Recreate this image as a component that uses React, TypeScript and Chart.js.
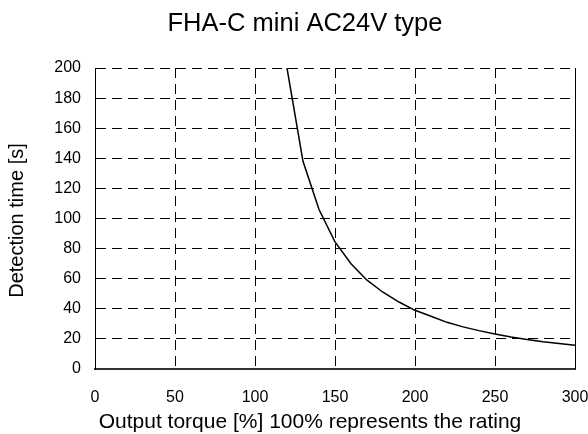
import React, { useEffect, useRef } from 'react';
import { Chart, registerables } from 'chart.js';

Chart.register(...registerables);

const torque = [120, 130, 140, 150, 160, 170, 180, 190, 200, 210, 220, 230, 240, 250, 260, 270, 280, 290, 300];
const detectionTime = [200, 138, 106, 84.5, 70, 59, 51, 44.5, 39, 35, 31, 28, 25.5, 23.3, 21.3, 19.6, 18.1, 16.9, 15.8];
const xTicks = [0, 50, 100, 150, 200, 250, 300];
const yTicks = [0, 20, 40, 60, 80, 100, 120, 140, 160, 180, 200];
const chartTitle = 'FHA-C mini AC24V type';
const xTitle = 'Output torque [%] 100% represents the rating';
const yTitle = 'Detection time [s]';

const FONT = "'Liberation Sans', Arial, sans-serif";

const textPlugin = {
  id: 'customText',
  afterDraw(chart: any) {
    const ctx = chart.ctx as CanvasRenderingContext2D;
    const xs = chart.scales.x;
    const area = chart.chartArea;
    ctx.save();
    // solid right frame edge, aligned like Chart.js grid lines
    ctx.strokeStyle = '#000';
    ctx.lineWidth = 1;
    ctx.setLineDash([]);
    const rx = Math.round(xs.getPixelForValue(xTicks[xTicks.length - 1]) - 0.5) + 0.5;
    ctx.beginPath();
    ctx.moveTo(rx, area.top);
    ctx.lineTo(rx, area.bottom);
    ctx.stroke();

    ctx.fillStyle = '#000';
    ctx.textBaseline = 'alphabetic';
    ctx.textAlign = 'center';
    ctx.font = `25.5px ${FONT}`;
    ctx.fillText(chartTitle, 305, 31);
    ctx.font = `21px ${FONT}`;
    ctx.fillText(xTitle, 310, 428);
    ctx.translate(23, 220.5);
    ctx.rotate(-Math.PI / 2);
    ctx.font = `20px ${FONT}`;
    ctx.fillText(yTitle, 0, 0);
    ctx.restore();
  },
};

export default function App() {
  const ref = useRef<HTMLCanvasElement | null>(null);

  useEffect(() => {
    if (!ref.current) return;
    const chart = new Chart(ref.current, {
      type: 'scatter',
      data: {
        datasets: [
          {
            data: torque.map((x, i) => ({ x, y: detectionTime[i] })),
            showLine: true,
            borderColor: '#000',
            borderWidth: 1.5,
            pointRadius: 0,
            fill: false,
            tension: 0,
          },
        ],
      },
      options: {
        responsive: false,
        animation: false,
        layout: { padding: { top: 68, right: 13, bottom: 0, left: 0 } },
        plugins: {
          legend: { display: false },
          tooltip: { enabled: false },
          title: { display: false },
        },
        scales: {
          x: {
            type: 'linear',
            min: xTicks[0],
            max: xTicks[xTicks.length - 1],
            ticks: {
              stepSize: xTicks[1] - xTicks[0],
              color: '#000',
              font: { family: FONT, size: 16 },
              padding: 19,
              maxRotation: 0,
              autoSkip: false,
            },
            grid: { color: '#000', lineWidth: 1, drawTicks: false },
            border: { display: true, color: '#333', width: 2, dash: [10, 6] },
            afterFit: (s: any) => {
              s.height = 65;
              s.paddingRight = 13;
              s.paddingLeft = 0;
            },
          },
          y: {
            type: 'linear',
            min: yTicks[0],
            max: yTicks[yTicks.length - 1],
            ticks: {
              stepSize: yTicks[1] - yTicks[0],
              color: '#000',
              font: { family: FONT, size: 16 },
              padding: 14,
              autoSkip: false,
            },
            grid: { color: '#000', lineWidth: 1, drawTicks: false },
            border: { display: true, color: '#000', width: 1, dash: [10, 6] },
            afterFit: (s: any) => {
              s.width = 95;
              s.paddingTop = 0;
              s.paddingBottom = 0;
            },
          },
        },
      } as any,
      plugins: [textPlugin],
    });
    return () => chart.destroy();
  }, []);

  return (
    <div style={{ position: 'fixed', left: 0, top: 0, width: 588, height: 434, background: '#fff' }}>
      <canvas ref={ref} width={588} height={434} style={{ display: 'block' }} />
    </div>
  );
}
